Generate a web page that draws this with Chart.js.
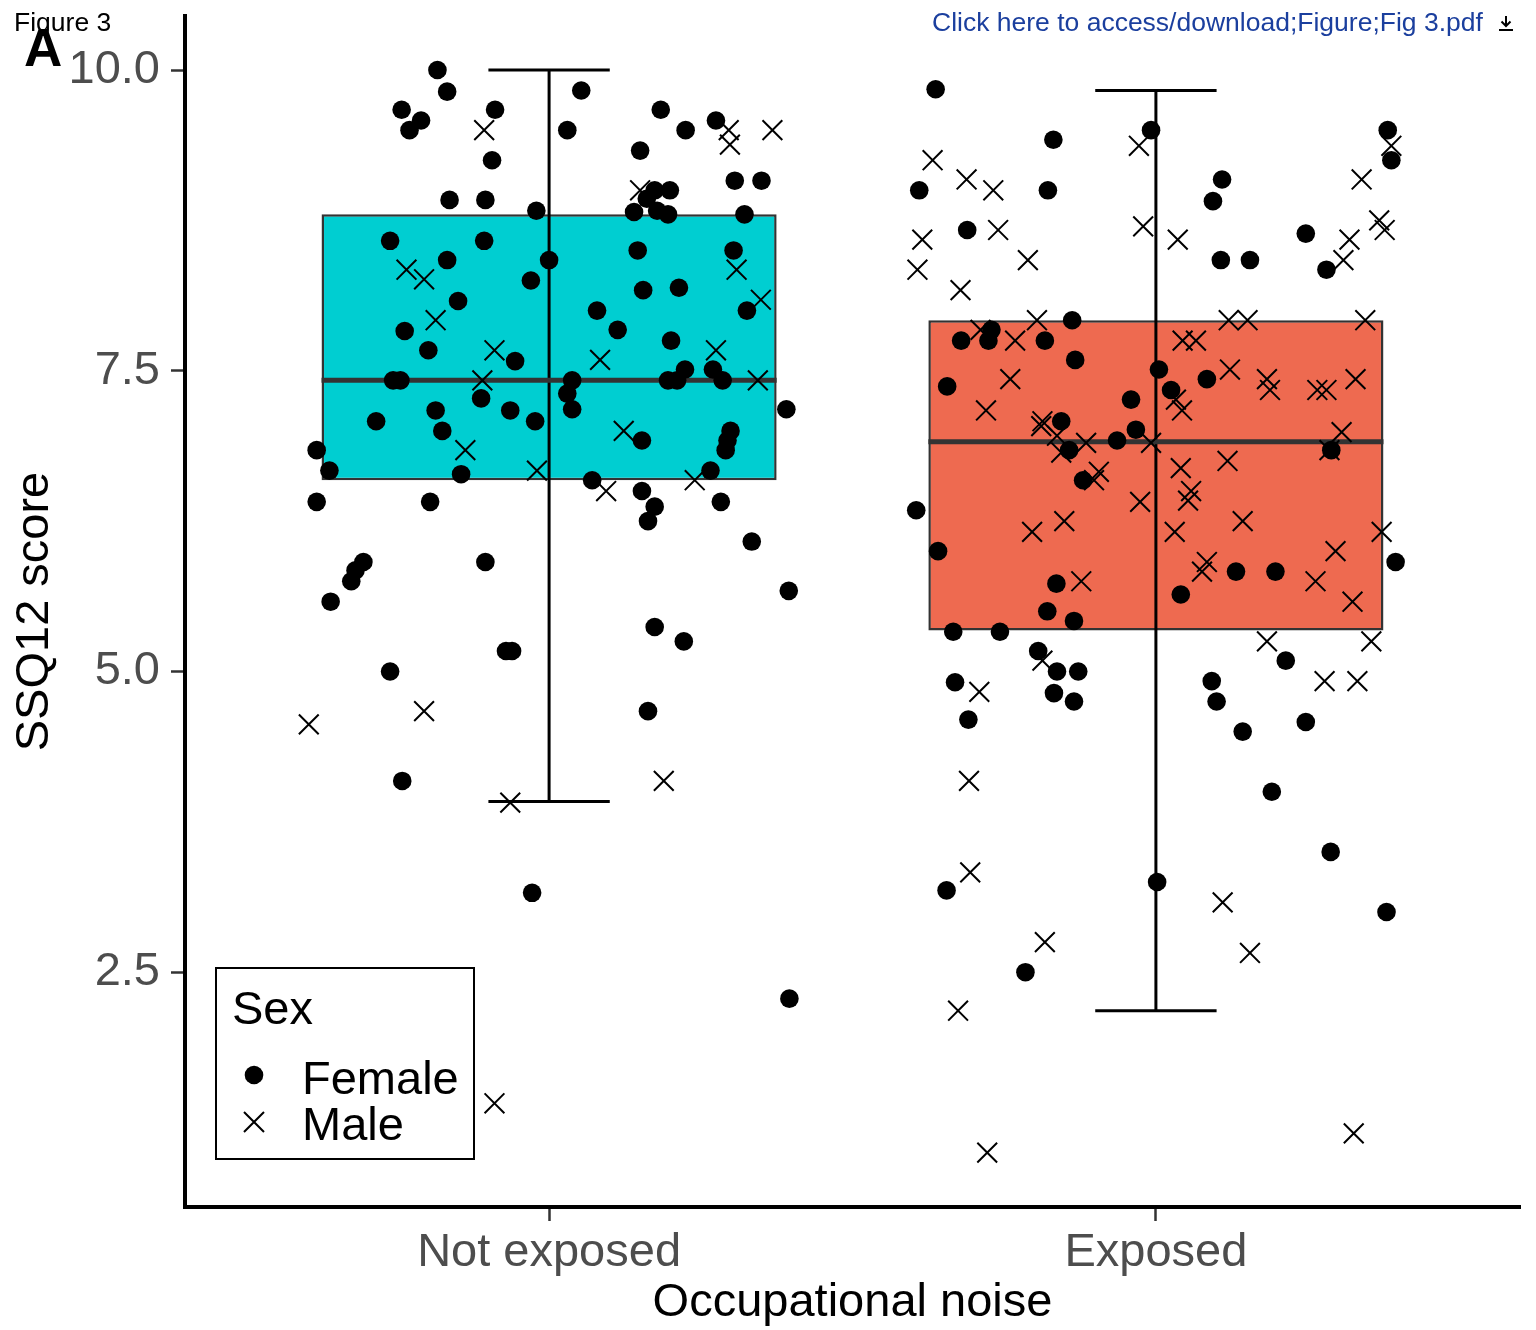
<!DOCTYPE html>
<html>
<head>
<meta charset="utf-8">
<title>Figure 3</title>
<script src="https://cdn.jsdelivr.net/npm/chart.js@4.4.0/dist/chart.umd.min.js"></script>
<style>
  html, body { margin: 0; padding: 0; background: #fff; }
  #wrap { position: relative; width: 1536px; height: 1330px; }
  #chart { position: absolute; left: 0; top: 0; }
  svg.overlay { position: absolute; left: 0; top: 0; pointer-events: none; }
</style>
</head>
<body>
<div id="wrap">
  <canvas id="chart" width="1536" height="1330"></canvas>
  <svg class="overlay" width="1536" height="1330" font-family="'Liberation Sans', Arial, sans-serif">
    <text x="14" y="31" font-size="26.5" fill="#000">Figure 3</text>
    <text x="24" y="66" font-size="53" font-weight="bold" fill="#000">A</text>
    <text x="932" y="31" font-size="26.5" fill="#1b3f9e">Click here to access/download;Figure;Fig 3.pdf</text>
    <path d="M1506 16 V26 M1501.5 21.5 L1506 26 L1510.5 21.5 M1499 30 H1513" stroke="#000" stroke-width="2" fill="none"/>
    <!-- legend -->
    <rect x="216" y="968" width="258" height="191" fill="#fff" stroke="#000" stroke-width="2"/>
    <text x="232" y="1024" font-size="47" fill="#000">Sex</text>
    <circle cx="254" cy="1075" r="9.3" fill="#000"/>
    <path d="M244 1112 L264 1132 M264 1112 L244 1132" stroke="#000" stroke-width="2"/>
    <text x="302" y="1094" font-size="47" fill="#000">Female</text>
    <text x="302" y="1140" font-size="47" fill="#000">Male</text>
  </svg>
</div>
<script>
// categories and box stats
const groupLabels = ['Not exposed', 'Exposed'];
const groupPos = [1, 2];
const boxColors = ['#00CED1', '#EE6A50'];
const q1 = [6.59, 5.34];
const median = [7.42, 6.91];
const q3 = [8.80, 7.92];
const whiskerLow = [3.92, 2.18];
const whiskerHigh = [10.00, 9.83];
const yTicks = [2.5, 5.0, 7.5, 10.0];

// jittered points (x = jittered group position, y = SSQ12 score)
const notExposedFemaleX = [0.816, 0.832, 0.757, 0.789, 0.770, 0.911, 0.906, 0.836, 0.895, 0.979,
  0.738, 0.893, 0.832, 1.000, 0.970, 0.850, 0.762, 0.801, 0.944, 0.743,
  0.755, 0.888, 0.813, 0.936, 1.053, 1.030, 1.184, 1.225, 1.275, 1.150,
  1.174, 1.199, 1.161, 1.178, 1.196, 1.140, 1.322, 1.306, 1.350, 1.146,
  1.304, 1.155, 1.214, 1.079, 1.113, 1.326, 1.201, 1.038, 1.030, 1.038,
  1.196, 1.211, 1.224, 1.270, 1.286, 1.391, 0.715, 0.824, 0.977, 0.617,
  0.638, 0.855, 0.617, 0.804, 0.694, 0.681, 0.674, 0.640, 0.895, 0.929,
  0.939, 0.738, 1.153, 1.299, 1.294, 1.291, 1.266, 1.071, 1.153, 1.174,
  1.163, 1.283, 1.334, 1.395, 1.174, 1.222, 1.163, 0.758, 0.972, 1.396];
const notExposedFemaleY = [10.00, 9.82, 9.67, 9.58, 9.50, 9.67, 9.25, 8.92, 8.92, 8.83,
  8.58, 8.58, 8.42, 8.42, 8.25, 8.08, 7.83, 7.67, 7.58, 7.42,
  7.42, 7.27, 7.17, 7.17, 9.83, 9.50, 9.67, 9.50, 9.58, 9.33,
  9.00, 9.00, 8.93, 8.83, 8.80, 8.82, 8.80, 9.08, 9.08, 8.50,
  8.50, 8.17, 8.19, 8.00, 7.84, 8.00, 7.75, 7.42, 7.31, 7.18,
  7.42, 7.42, 7.51, 7.51, 7.42, 7.18, 7.08, 7.00, 7.08, 6.84,
  6.67, 6.64, 6.41, 6.41, 5.91, 5.84, 5.75, 5.58, 5.91, 5.17,
  5.17, 5.00, 6.92, 7.00, 6.92, 6.84, 6.67, 6.59, 6.50, 6.37,
  6.25, 6.41, 6.08, 5.67, 5.37, 5.25, 4.67, 4.09, 3.16, 2.28];

const notExposedMaleX = [0.893, 0.765, 0.794, 0.813, 0.910, 0.890, 1.150, 1.296, 1.298, 1.368,
  1.309, 1.349, 1.084, 1.275, 1.344, 0.862, 0.980, 0.604, 0.794, 1.123,
  1.094, 1.240, 0.936, 1.189, 0.910];
const notExposedMaleY = [9.50, 8.34, 8.26, 7.92, 7.67, 7.42, 9.00, 9.50, 9.38, 9.50,
  8.34, 8.09, 7.59, 7.67, 7.42, 6.84, 6.67, 4.56, 4.67, 7.00,
  6.50, 6.59, 3.91, 4.09, 1.41];

const exposedFemaleX = [1.637, 1.831, 1.610, 1.822, 1.689, 1.862, 1.729, 1.679, 1.724, 1.817,
  1.867, 1.656, 1.959, 1.844, 1.992, 2.005, 1.967, 2.109, 2.094, 2.382,
  2.388, 2.247, 2.107, 2.155, 2.281, 2.025, 2.084, 1.936, 1.857, 1.880,
  1.605, 1.641, 1.836, 1.821, 1.865, 1.666, 1.743, 1.806, 1.837, 1.872,
  1.669, 1.832, 1.865, 1.691, 2.289, 2.395, 2.132, 2.197, 2.041, 2.214,
  2.092, 2.100, 2.143, 2.247, 2.191, 1.655, 1.785, 2.002, 2.288, 2.380];
const exposedFemaleY = [9.84, 9.42, 9.00, 9.00, 8.67, 7.92, 7.84, 7.75, 7.75, 7.75,
  7.59, 7.37, 7.26, 7.08, 9.50, 7.51, 7.01, 9.09, 8.91, 9.50,
  9.25, 8.64, 8.42, 8.42, 8.34, 7.34, 7.43, 6.92, 6.84, 6.59,
  6.34, 6.00, 5.73, 5.50, 5.42, 5.33, 5.33, 5.17, 5.00, 5.00,
  4.91, 4.82, 4.75, 4.60, 6.84, 5.91, 5.83, 5.83, 5.64, 5.09,
  4.92, 4.75, 4.50, 4.58, 4.00, 3.18, 2.50, 3.25, 3.50, 3.00];

const exposedMaleX = [1.632, 1.688, 1.732, 1.615, 1.740, 1.607, 1.789, 1.678, 1.972, 1.979,
  1.804, 1.711, 1.768, 1.760, 1.720, 1.813, 2.388, 2.339, 2.368, 2.377,
  2.319, 2.309, 2.036, 2.120, 2.151, 2.345, 2.044, 2.066, 2.122, 2.183,
  2.188, 2.266, 2.281, 2.329, 2.033, 2.043, 2.306, 1.837, 1.885, 1.992,
  1.844, 1.906, 1.898, 1.974, 1.849, 1.796, 1.877, 1.813, 1.709, 1.692,
  2.286, 2.041, 2.118, 2.058, 2.053, 2.031, 2.143, 2.372, 2.296, 2.084,
  2.076, 2.263, 2.324, 2.183, 2.355, 2.278, 2.332, 1.694, 1.817, 1.674,
  1.722, 2.110, 2.155, 2.326, 1.811];
const exposedMaleY = [9.25, 9.09, 9.00, 8.59, 8.67, 8.34, 8.42, 8.17, 9.37, 8.70,
  7.92, 7.84, 7.75, 7.43, 7.17, 7.08, 9.37, 9.09, 8.75, 8.67,
  8.59, 8.42, 8.59, 7.92, 7.92, 7.92, 7.75, 7.75, 7.51, 7.43,
  7.34, 7.34, 7.34, 7.43, 7.26, 7.17, 6.99, 6.96, 6.90, 6.90,
  6.82, 6.66, 6.59, 6.41, 6.25, 6.16, 5.75, 5.09, 4.83, 4.09,
  6.84, 6.69, 6.75, 6.50, 6.42, 6.16, 6.25, 6.16, 6.00, 5.91,
  5.83, 5.75, 5.58, 5.25, 5.25, 4.92, 4.92, 3.33, 2.75, 2.18,
  1.00, 3.08, 2.66, 1.16, 7.04];

const FONT = "'Liberation Sans', Arial, Helvetica, sans-serif";
const boxHalf = 0.375;   // box width 0.75
const capHalf = 0.1;     // errorbar width 0.2

function toPoints(xs, ys) {
    return xs.map((x, i) => ({ x: x, y: ys[i] }));
}

function segment(x1, y1, x2, y2, color, width, order) {
    return {
        type: 'line',
        data: [{ x: x1, y: y1 }, { x: x2, y: y2 }],
        borderColor: color,
        borderWidth: width,
        borderCapStyle: 'butt',
        pointRadius: 0,
        fill: false,
        order: order
    };
}

const datasets = [];

// boxes (floating bars from q1 to q3)
datasets.push({
    type: 'bar',
    data: groupPos.map((x, i) => ({ x: x, y: [q1[i], q3[i]] })),
    backgroundColor: boxColors,
    borderColor: '#333333',
    borderWidth: 2.5,
    borderSkipped: false,
    categoryPercentage: 1,
    barPercentage: 0.75,
    order: 10
});

// error bars and medians
groupPos.forEach((x, i) => {
    datasets.push(segment(x, whiskerLow[i], x, whiskerHigh[i], '#000', 3, 6));
    datasets.push(segment(x - capHalf, whiskerHigh[i], x + capHalf, whiskerHigh[i], '#000', 3, 6));
    datasets.push(segment(x - capHalf, whiskerLow[i], x + capHalf, whiskerLow[i], '#000', 3, 6));
    datasets.push(segment(x - boxHalf, median[i], x + boxHalf, median[i], '#333333', 5, 5));
});

// points
const femaleStyle = { pointStyle: 'circle', pointRadius: 9.3, backgroundColor: '#000', borderWidth: 0, order: 1 };
const maleStyle = { pointStyle: 'crossRot', pointRadius: 14, borderColor: '#000', borderWidth: 2, order: 1 };
datasets.push({ type: 'scatter', label: 'Female', data: toPoints(notExposedFemaleX, notExposedFemaleY), ...femaleStyle });
datasets.push({ type: 'scatter', label: 'Male', data: toPoints(notExposedMaleX, notExposedMaleY), ...maleStyle });
datasets.push({ type: 'scatter', label: 'Female', data: toPoints(exposedFemaleX, exposedFemaleY), ...femaleStyle });
datasets.push({ type: 'scatter', label: 'Male', data: toPoints(exposedMaleX, exposedMaleY), ...maleStyle });

const axisGrid = {
    display: true,
    offset: false,
    drawOnChartArea: false,
    drawTicks: true,
    tickLength: 14,
    tickWidth: 2.5,
    tickColor: '#333333'
};
const axisBorder = { display: true, color: '#000', width: 4 };

new Chart(document.getElementById('chart').getContext('2d'), {
    type: 'scatter',
    data: { datasets: datasets },
    options: {
        responsive: false,
        maintainAspectRatio: false,
        devicePixelRatio: 1,
        animation: false,
        events: [],
        layout: { padding: { top: 15, right: 16, bottom: 0, left: 0 } },
        plugins: {
            legend: { display: false },
            tooltip: { enabled: false }
        },
        scales: {
            x: {
                type: 'linear',
                min: 0.4,
                max: 2.6,
                offset: false,
                afterBuildTicks: (s) => { s.ticks = groupPos.map(v => ({ value: v })); },
                afterFit: (s) => { s.height = 123; s.paddingLeft = 0; s.paddingRight = 0; },
                ticks: {
                    callback: (v, i) => groupLabels[i],
                    color: '#4d4d4d',
                    font: { family: FONT, size: 47 },
                    padding: 4,
                    maxRotation: 0,
                    autoSkip: false
                },
                grid: axisGrid,
                border: axisBorder,
                title: {
                    display: true,
                    text: 'Occupational noise',
                    color: '#000',
                    font: { family: FONT, size: 47, lineHeight: 1.14 },
                    padding: { top: 0, bottom: 0 }
                }
            },
            y: {
                type: 'linear',
                min: 0.548,
                max: 10.449,
                afterBuildTicks: (s) => { s.ticks = yTicks.map(v => ({ value: v })); },
                afterFit: (s) => { s.width = 185; s.paddingTop = 0; s.paddingBottom = 0; },
                ticks: {
                    callback: (v) => Number(v).toFixed(1),
                    color: '#4d4d4d',
                    font: { family: FONT, size: 47 },
                    padding: 11
                },
                grid: axisGrid,
                border: axisBorder,
                title: {
                    display: true,
                    text: 'SSQ12 score',
                    color: '#000',
                    font: { family: FONT, size: 47 },
                    padding: { top: 7, bottom: 0 }
                }
            }
        }
    }
});
</script>
</body>
</html>
